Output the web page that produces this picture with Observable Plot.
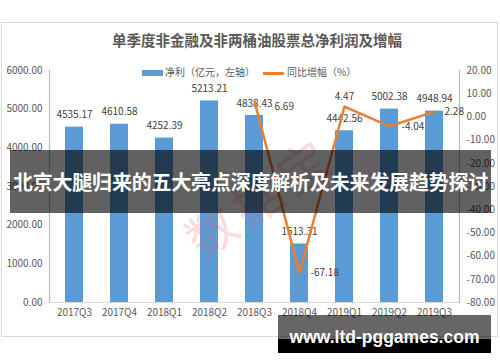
<!DOCTYPE html>
<html><head><meta charset="utf-8">
<script src="https://cdn.jsdelivr.net/npm/d3@7"></script>
<script src="https://cdn.jsdelivr.net/npm/@observablehq/plot@0.6"></script>
<style>
body{margin:0;background:#fff;}
#wrap{position:relative;width:500px;height:362px;overflow:hidden;font-family:"Noto Sans CJK SC","Noto Sans",sans-serif;}
#wrap svg{position:absolute;left:0;top:0;}
.abs{position:absolute;}
#border{left:1px;top:22px;width:497px;height:315px;border:1px solid #d9d9d9;box-sizing:border-box;}
#title{left:0;width:514px;top:29px;text-align:center;font-size:14.5px;font-weight:bold;color:#595959;line-height:22px;}
#legend{left:142px;top:64px;font-size:10px;color:#595959;line-height:16px;white-space:nowrap;}
.sw{display:inline-block;vertical-align:middle;}
#wm{left:133px;top:168px;width:250px;text-align:center;font-size:50px;color:rgba(235,90,100,0.22);transform:rotate(-35deg);font-weight:normal;line-height:54px;letter-spacing:6px;white-space:nowrap;}
#banner{left:10px;top:150px;width:481px;height:63px;background:rgba(0,0,0,0.62);color:#fff;font-weight:bold;font-size:20px;line-height:63px;text-align:center;white-space:nowrap;letter-spacing:-0.2px;}
#b2a{left:278px;top:315px;width:213px;height:24px;background:rgba(0,0,0,0.6);}
#b2b{left:278px;top:339px;width:213px;height:14px;background:#000;}
#b2t{left:278px;top:315px;width:213px;height:38px;color:#fff;font-family:"Liberation Sans",Arial,sans-serif;font-weight:bold;font-size:17.5px;line-height:44px;text-align:center;}
</style></head><body><div id="wrap"></div>
<script>
const titleText = "单季度非金融及非两桶油股票总净利润及增幅";
const legendBar = "净利（亿元，左轴）";
const legendLine = "同比增幅（%）";
const quarters = ["2017Q3","2017Q4","2018Q1","2018Q2","2018Q3","2018Q4","2019Q1","2019Q2","2019Q3"];
const netProfit = [4535.17, 4610.58, 4252.39, 5213.21, 4838.43, 1513.31, 4442.56, 5002.38, 4948.94];
const growth = [null, null, null, null, 6.69, -67.18, 4.47, -4.04, 2.28];
const leftTicks = [0, 1000, 2000, 3000, 4000, 5000, 6000];
const rightTicks = [-80, -70, -60, -50, -40, -30, -20, -10, 0, 10, 20];
const bannerText = "北京大腿归来的五大亮点深度解析及未来发展趋势探讨";
const siteText = "www.ltd-pggames.com";
const watermark = "数据宝";

// map right-axis (%) onto the left scale: -80 -> 0, 20 -> 6000
const toLeft = p => (p + 80) * 60;
const fromLeft = v => v / 60 - 80;

const rows = quarters.map((q, i) => ({q, v: netProfit[i], g: growth[i], gl: growth[i] == null ? null : toLeft(growth[i])}));
const lineRows = rows.filter(d => d.g != null);
const lbl = q => lineRows.filter(d => d.q === q);

const numFont = "'Noto Sans CJK SC', 'Noto Sans', sans-serif";
const chart = Plot.plot({
  width: 500, height: 362,
  marginLeft: 49, marginRight: 41, marginTop: 70, marginBottom: 60,
  style: {fontFamily: numFont, fontSize: "10px", color: "#595959", background: "transparent", overflow: "visible"},
  x: {domain: quarters, paddingInner: 0.6, paddingOuter: 0.3, label: null},
  y: {domain: [0, 6000], label: null},
  marks: [
    Plot.barY(rows, {x: "q", y: "v", fill: "#5B9BD5"}),
    Plot.ruleY([0], {stroke: "#d9d9d9", strokeWidth: 1}),
    Plot.frame({anchor: "left", stroke: "#9DC3E6", strokeWidth: 1.2}),
    Plot.frame({anchor: "right", stroke: "#9DC3E6", strokeWidth: 1.2}),
    Plot.axisY({anchor: "left", ticks: leftTicks, tickFormat: d => d.toFixed(2), tickSize: 0, tickPadding: 7, label: null, fill: "#595959"}),
    Plot.axisY({anchor: "right", ticks: rightTicks.map(toLeft), tickFormat: d => fromLeft(d).toFixed(2), tickSize: 0, tickPadding: 7, label: null, fill: "#595959"}),
    Plot.axisX({anchor: "bottom", tickSize: 0, tickPadding: 6, label: null, fill: "#595959"}),
    Plot.text(rows, {x: "q", y: "v", text: d => d.v.toFixed(2), dy: -12, fill: "#404040", fontSize: 10}),
    Plot.line(lineRows, {x: "q", y: "gl", stroke: "#ED7D31", strokeWidth: 2.5}),
    Plot.text(lbl("2018Q3"), {x: "q", y: "gl", text: d => d.g.toFixed(2), dx: 20, dy: 5, textAnchor: "start", fill: "#404040", fontSize: 10}),
    Plot.text(lbl("2018Q4"), {x: "q", y: "gl", text: d => d.g.toFixed(2), dx: 11, dy: 0, textAnchor: "start", fill: "#404040", fontSize: 10}),
    Plot.text(lbl("2019Q1"), {x: "q", y: "gl", text: d => d.g.toFixed(2), dy: -10, textAnchor: "middle", fill: "#404040", fontSize: 10}),
    Plot.text(lbl("2019Q2"), {x: "q", y: "gl", text: d => d.g.toFixed(2), dx: 12, dy: 1, textAnchor: "start", fill: "#404040", fontSize: 10}),
    Plot.text(lbl("2019Q3"), {x: "q", y: "gl", text: d => d.g.toFixed(2), dx: 10, dy: 0, textAnchor: "start", fill: "#404040", fontSize: 10})
  ]
});

const wrap = document.getElementById("wrap");
const add = (id, html) => { const d = document.createElement("div"); d.className = "abs"; d.id = id; if (html != null) d.innerHTML = html; wrap.appendChild(d); return d; };
add("border");
wrap.appendChild(chart);
add("title").textContent = titleText;
const lg = add("legend");
lg.innerHTML = `<span class="sw" style="width:21px;height:6px;background:#5B9BD5;margin-right:2px"></span><span></span><span class="sw" style="width:21px;height:2.5px;background:#ED7D31;margin-left:8px;margin-right:3px"></span><span></span>`;
lg.children[1].textContent = legendBar;
lg.children[3].textContent = legendLine;
add("wm").textContent = watermark;
add("banner").textContent = bannerText;
add("b2a"); add("b2b");
add("b2t").textContent = siteText;
</script>
</body></html>
